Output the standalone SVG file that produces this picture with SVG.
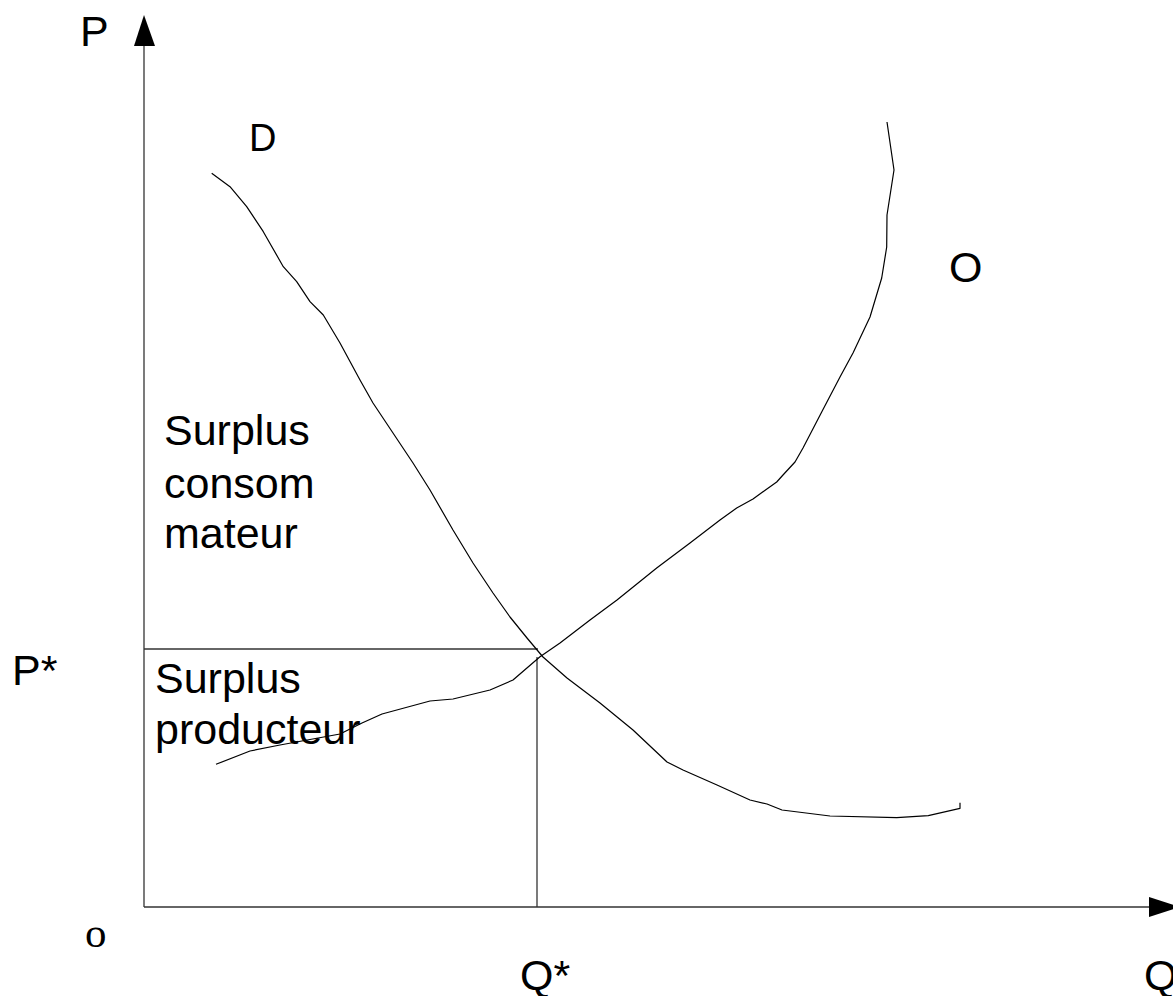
<svg xmlns="http://www.w3.org/2000/svg" width="1173" height="996" viewBox="0 0 1173 996">
<style>
.t{font-family:"Liberation Sans",Arial,sans-serif;font-size:43px;fill:#000}
.s{font-family:"Liberation Serif","Times New Roman",serif;font-size:43px;fill:#000}
.c{fill:none;stroke:#000;stroke-width:1.2;stroke-linejoin:round}
.g{fill:none;stroke:#333;stroke-width:1.3}
</style>
<rect width="1173" height="996" fill="#fff"/>
<g id="connectors">
  <g id="axis-p">
    <line class="g" x1="144" y1="907" x2="144" y2="44"/>
    <polygon points="144,15 134,46 155,46" fill="#000"/>
  </g>
  <g id="axis-q">
    <line class="g" x1="144" y1="907" x2="1151" y2="907"/>
    <polygon points="1180,907 1149,897 1149,917" fill="#000"/>
  </g>
  <g id="equilibrium-lines">
    <line class="g" x1="144" y1="649" x2="538" y2="649"/>
    <line class="g" x1="537" y1="657" x2="537" y2="907"/>
  </g>
  <polyline id="curve-d" class="c" points="211.7,173.3 230,186.7 246.7,206.7 263.3,231.7 283.3,266.7 296.7,281.7 310,301.7 323.3,315 340,343 360,380 373,403 393,433 413,463 430,490 453,530 473,563 493,593 510,617 527,638 543,657 567,678 600,703 633,730 667,762 683,770 717,785 750,800 767,804 782,810 830,816 896.7,817.7 928.3,815.7 960,808.3 960,802.7"/>
  <polyline id="curve-o" class="c" points="216,764.3 250,751 280,745 340,734 362,723 382,714 430,701 453,699 490,690 513,680 540,656.7 560,643 590,620 617,600 656.7,568 690,543 720,520 736.7,508 753,499 776.7,482 783,475 795,462 803,448 821.7,412 840,377 853,353 870,317 881.7,278 886.7,247 887,215 894,170 887,122"/>
</g>
<g id="label-p"><text class="t" x="80" y="46">P</text></g>
<g id="label-d"><text class="t" x="249" y="151" style="font-size:38px">D</text></g>
<g id="label-o"><text class="t" x="949" y="282">O</text></g>
<g id="label-surplus-consommateur">
  <text class="t" x="164" y="445">Surplus</text>
  <text class="t" x="164" y="498">consom</text>
  <text class="t" x="164" y="548">mateur</text>
</g>
<g id="label-surplus-producteur">
  <text class="t" x="155" y="693">Surplus</text>
  <text class="t" x="155" y="744">producteur</text>
</g>
<g id="label-pstar"><text class="t" x="12" y="685">P*</text></g>
<g id="label-origin"><text class="s" x="85" y="947">o</text></g>
<g id="label-qstar"><text class="t" x="520" y="990">Q*</text></g>
<g id="label-q"><text class="t" x="1144" y="990">Q</text></g>
</svg>
